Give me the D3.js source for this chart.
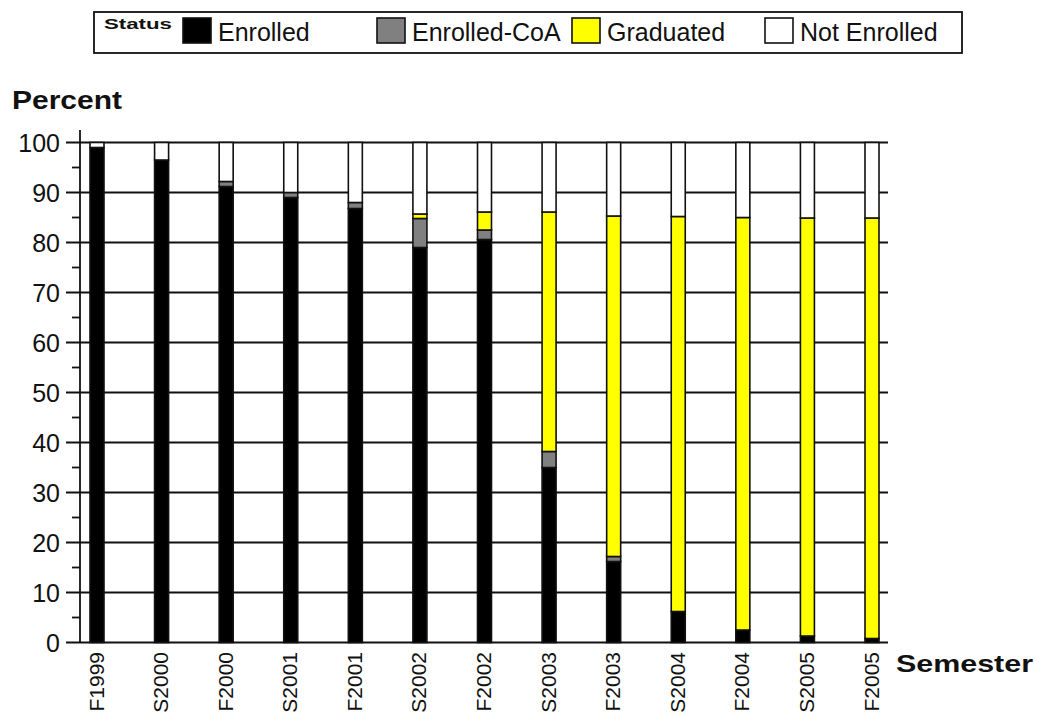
<!DOCTYPE html>
<html>
<head>
<meta charset="utf-8">
<script src="https://cdn.jsdelivr.net/npm/d3@7"></script>
<style>
  html, body { margin: 0; padding: 0; background: #fff; }
  svg { display: block; }
  text { font-family: Arial, "Liberation Sans", sans-serif; }
</style>
</head>
<body>
<svg id="chart" width="1037" height="719"></svg>
<script>
const categories = ["F1999","S2000","F2000","S2001","F2001","S2002","F2002","S2003","F2003","S2004","F2004","S2005","F2005"];
const enrolled    = [99, 96.5, 91.2, 89, 86.8, 79, 80.6, 35, 16.2, 6.2, 2.5, 1.3, 0.8];
const enrolledCoA = [0, 0, 1.0, 1.0, 1.2, 5.8, 1.9, 3.2, 1.0, 0, 0, 0, 0];
const graduated   = [0, 0, 0, 0, 0, 0.9, 3.6, 47.9, 68.1, 79, 82.5, 83.6, 84.1];
const notEnrolled = [1, 3.5, 7.8, 10, 12, 14.3, 13.9, 13.9, 14.7, 14.8, 15, 15.1, 15.1];
const seriesNames = ["Enrolled","Enrolled-CoA","Graduated","Not Enrolled"];
const seriesColors = ["#000000","#808080","#ffff00","#ffffff"];
const yTicks = [0,10,20,30,40,50,60,70,80,90,100];
const yMinorTicks = [5,15,25,35,45,55,65,75,85,95];

const svg = d3.select("#chart");
const x = d3.scalePoint().domain(categories).range([97, 872]);
const y = d3.scaleLinear().domain([0, 100]).range([642.5, 142.5]);
const barW = 14;
const gridX0 = 66, gridX1 = 888, axisX = 80;
const ink = "#111";

// gridlines
svg.append("g").selectAll("line").data(yTicks).join("line")
  .attr("x1", gridX0).attr("x2", gridX1)
  .attr("y1", d => y(d)).attr("y2", d => y(d))
  .attr("stroke", ink).attr("stroke-width", 1.8);

// y axis line
svg.append("line").attr("x1", axisX).attr("x2", axisX)
  .attr("y1", 130).attr("y2", y(0))
  .attr("stroke", ink).attr("stroke-width", 1.8);
// minor ticks
svg.append("g").selectAll("line").data(yMinorTicks).join("line")
  .attr("x1", 72).attr("x2", axisX)
  .attr("y1", d => y(d)).attr("y2", d => y(d))
  .attr("stroke", ink).attr("stroke-width", 1.8);

// y labels
svg.append("g").selectAll("text").data(yTicks).join("text")
  .attr("x", 60).attr("y", d => y(d)).attr("dy", "0.36em")
  .attr("text-anchor", "end").attr("font-size", 25).attr("fill", ink)
  .text(d => d);

// stacked bars
const rows = categories.map((c, i) => ({cat: c, "Enrolled": enrolled[i], "Enrolled-CoA": enrolledCoA[i], "Graduated": graduated[i], "Not Enrolled": notEnrolled[i]}));
const stack = d3.stack().keys(seriesNames)(rows);
stack.forEach((layer, li) => {
  svg.append("g").selectAll("rect").data(layer.filter(d => d[1] - d[0] > 0)).join("rect")
    .attr("x", d => x(d.data.cat) - barW / 2)
    .attr("width", barW)
    .attr("y", d => y(d[1]))
    .attr("height", d => y(d[0]) - y(d[1]))
    .attr("fill", seriesColors[li])
    .attr("stroke", ink).attr("stroke-width", 1.6);
});

// x labels
svg.append("g").selectAll("text").data(categories).join("text")
  .attr("transform", d => `translate(${x(d) - 1},652) rotate(-90)`)
  .attr("text-anchor", "end").attr("dy", "0.36em")
  .attr("font-size", 21).attr("fill", ink)
  .text(d => d);

// axis titles
svg.append("text").attr("x", 12).attr("y", 109).attr("font-size", 25)
  .attr("font-weight", "bold").attr("fill", ink)
  .attr("textLength", 110).attr("lengthAdjust", "spacingAndGlyphs").text("Percent");
svg.append("text").attr("x", 896).attr("y", 672).attr("font-size", 24)
  .attr("font-weight", "bold").attr("fill", ink)
  .attr("textLength", 137).attr("lengthAdjust", "spacingAndGlyphs").text("Semester");

// legend
const lg = svg.append("g");
lg.append("rect").attr("x", 94).attr("y", 12).attr("width", 868).attr("height", 41)
  .attr("fill", "#fff").attr("stroke", ink).attr("stroke-width", 1.8);
lg.append("text").attr("x", 104).attr("y", 29).attr("font-size", 15)
  .attr("font-weight", "bold").attr("fill", ink)
  .attr("textLength", 68).attr("lengthAdjust", "spacingAndGlyphs").text("Status");
const legendX = [183, 377, 572, 765];
seriesNames.forEach((s, i) => {
  lg.append("rect").attr("x", legendX[i]).attr("y", 18).attr("width", 28).attr("height", 25)
    .attr("fill", seriesColors[i]).attr("stroke", ink).attr("stroke-width", 1.6);
  lg.append("text").attr("x", legendX[i] + 35).attr("y", 41).attr("font-size", 25)
    .attr("fill", ink).text(s);
});
</script>
</body>
</html>
